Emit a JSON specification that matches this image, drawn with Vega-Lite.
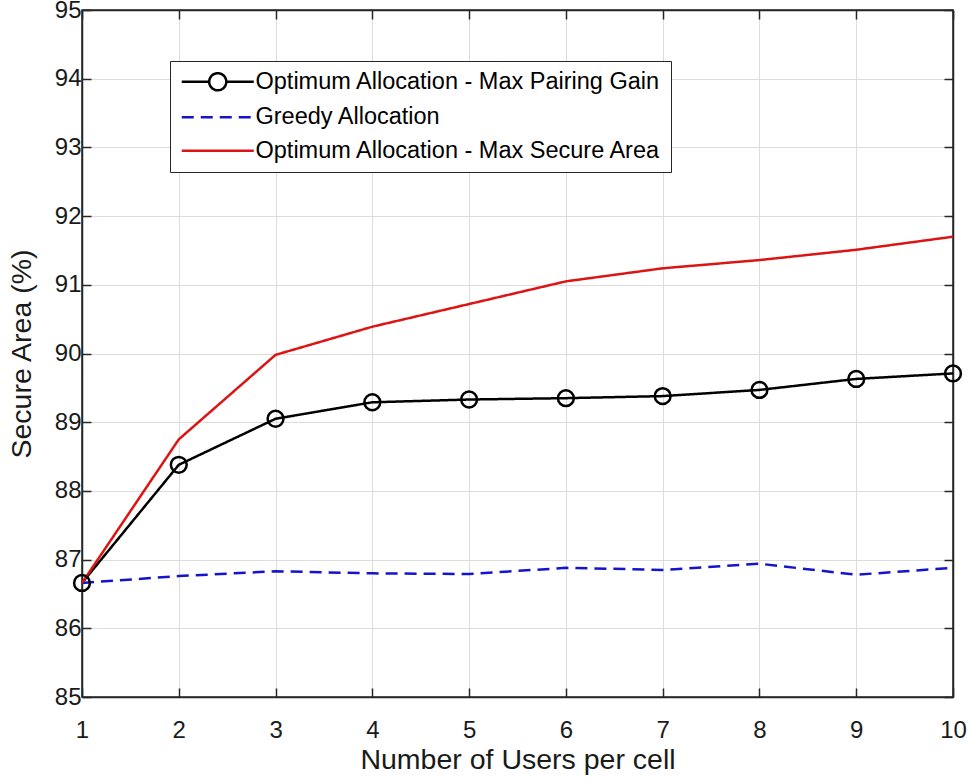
{
  "$schema": "https://vega.github.io/schema/vega-lite/v6.json",
  "width": 871,
  "height": 687,
  "autosize": {"type": "none"},
  "padding": {"left": 82, "top": 10, "right": 16, "bottom": 86},
  "background": "white",
  "data": {
    "values": [
      {"users": 1, "series": "Optimum Allocation - Max Pairing Gain", "area": 86.66},
      {"users": 2, "series": "Optimum Allocation - Max Pairing Gain", "area": 88.38},
      {"users": 3, "series": "Optimum Allocation - Max Pairing Gain", "area": 89.05},
      {"users": 4, "series": "Optimum Allocation - Max Pairing Gain", "area": 89.29},
      {"users": 5, "series": "Optimum Allocation - Max Pairing Gain", "area": 89.33},
      {"users": 6, "series": "Optimum Allocation - Max Pairing Gain", "area": 89.35},
      {"users": 7, "series": "Optimum Allocation - Max Pairing Gain", "area": 89.38},
      {"users": 8, "series": "Optimum Allocation - Max Pairing Gain", "area": 89.47},
      {"users": 9, "series": "Optimum Allocation - Max Pairing Gain", "area": 89.63},
      {"users": 10, "series": "Optimum Allocation - Max Pairing Gain", "area": 89.71},
      {"users": 1, "series": "Greedy Allocation", "area": 86.66},
      {"users": 2, "series": "Greedy Allocation", "area": 86.76},
      {"users": 3, "series": "Greedy Allocation", "area": 86.83},
      {"users": 4, "series": "Greedy Allocation", "area": 86.8},
      {"users": 5, "series": "Greedy Allocation", "area": 86.79},
      {"users": 6, "series": "Greedy Allocation", "area": 86.88},
      {"users": 7, "series": "Greedy Allocation", "area": 86.85},
      {"users": 8, "series": "Greedy Allocation", "area": 86.94},
      {"users": 9, "series": "Greedy Allocation", "area": 86.78},
      {"users": 10, "series": "Greedy Allocation", "area": 86.88},
      {"users": 1, "series": "Optimum Allocation - Max Secure Area", "area": 86.66},
      {"users": 2, "series": "Optimum Allocation - Max Secure Area", "area": 88.75},
      {"users": 3, "series": "Optimum Allocation - Max Secure Area", "area": 89.98},
      {"users": 4, "series": "Optimum Allocation - Max Secure Area", "area": 90.39},
      {"users": 5, "series": "Optimum Allocation - Max Secure Area", "area": 90.72},
      {"users": 6, "series": "Optimum Allocation - Max Secure Area", "area": 91.05},
      {"users": 7, "series": "Optimum Allocation - Max Secure Area", "area": 91.24},
      {"users": 8, "series": "Optimum Allocation - Max Secure Area", "area": 91.36},
      {"users": 9, "series": "Optimum Allocation - Max Secure Area", "area": 91.51},
      {"users": 10, "series": "Optimum Allocation - Max Secure Area", "area": 91.7}
    ]
  },
  "resolve": {"axis": {"x": "independent", "y": "independent"}},
  "layer": [
    {
      "mark": {"type": "line", "strokeWidth": 2.5},
      "encoding": {
        "x": {
          "field": "users", "type": "quantitative",
          "scale": {"domain": [1, 10], "nice": false, "zero": false},
          "axis": {"title": "Number of Users per cell", "values": [1, 2, 3, 4, 5, 6, 7, 8, 9, 10], "labelPadding": 30, "titlePadding": 3}
        },
        "y": {
          "field": "area", "type": "quantitative",
          "scale": {"domain": [85, 95], "nice": false, "zero": false},
          "axis": {"title": "Secure Area (%)", "values": [85, 86, 87, 88, 89, 90, 91, 92, 93, 94, 95], "labelPadding": 10, "titlePadding": 18}
        },
        "color": {
          "field": "series", "type": "nominal",
          "scale": {
            "domain": ["Optimum Allocation - Max Pairing Gain", "Greedy Allocation", "Optimum Allocation - Max Secure Area"],
            "range": ["#000000", "#1414cc", "#dc1414"]
          },
          "legend": {
            "title": null,
            "orient": "none",
            "legendX": 88,
            "legendY": 51,
            "padding": 9,
            "fillColor": "white",
            "strokeColor": "#262626",
            "symbolType": "stroke",
            "symbolSize": 324,
            "symbolStrokeWidth": 2.5,
            "labelFontSize": 23.5,
            "labelFont": "Liberation Sans",
            "labelColor": "#000000",
            "labelLimit": 600,
            "labelOffset": 53,
            "rowPadding": 8.5,
            "encode": {
              "symbols": {
                "update": {
                  "shape": {"signal": "datum.value == 'Optimum Allocation - Max Pairing Gain' ? 'M-1,0H2.05M3.95,0H7M2.05,0A0.95,0.95 0 1,0 3.95,0A0.95,0.95 0 1,0 2.05,0' : 'M-1,0H7'"}
                }
              }
            }
          }
        },
        "strokeDash": {
          "field": "series", "type": "nominal",
          "scale": {
            "domain": ["Optimum Allocation - Max Pairing Gain", "Greedy Allocation", "Optimum Allocation - Max Secure Area"],
            "range": [[1, 0], [12, 7], [1, 0]]
          },
          "legend": null
        }
      }
    },
    {
      "transform": [{"filter": "datum.series == 'Optimum Allocation - Max Pairing Gain'"}],
      "mark": {"type": "point", "shape": "circle", "filled": false, "color": "#000000", "size": 250, "strokeWidth": 2.5, "opacity": 1},
      "encoding": {
        "x": {
          "field": "users", "type": "quantitative",
          "axis": {"orient": "top", "labels": false, "title": null, "grid": false, "values": [1, 2, 3, 4, 5, 6, 7, 8, 9, 10]}
        },
        "y": {
          "field": "area", "type": "quantitative",
          "axis": {"orient": "right", "labels": false, "title": null, "grid": false, "values": [85, 86, 87, 88, 89, 90, 91, 92, 93, 94, 95]}
        }
      }
    }
  ],
  "config": {
    "view": {"stroke": "#262626", "strokeWidth": 1.5},
    "axis": {
      "domainColor": "#262626",
      "domainWidth": 1.5,
      "tickColor": "#262626",
      "tickSize": -9,
      "tickWidth": 1.5,
      "gridColor": "#dcdcdc",
      "gridWidth": 1,
      "labelFlush": false,
      "labelFont": "Liberation Sans",
      "labelFontSize": 24,
      "labelColor": "#1a1a1a",
      "titleFont": "Liberation Sans",
      "titleFontSize": 28.5,
      "titleFontWeight": "normal",
      "titleColor": "#1a1a1a"
    }
  }
}
